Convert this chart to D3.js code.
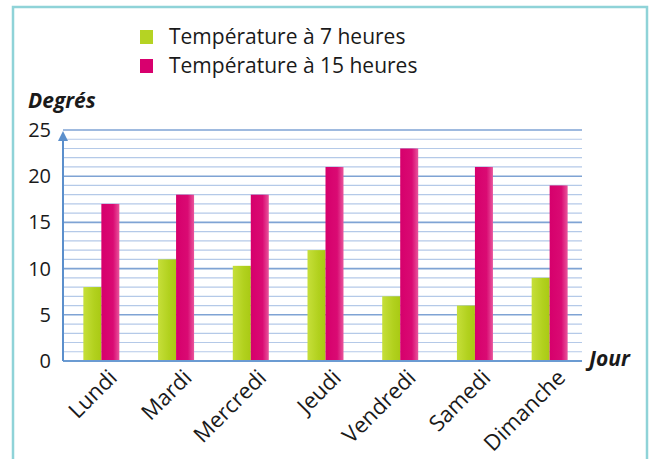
<!DOCTYPE html>
<html>
  <head>
    <meta charset="utf-8">
    <script src="https://cdn.jsdelivr.net/npm/d3@7"></script>
    <style>
      body { margin: 0; background: #ffffff; }
      text { font-family: "Open Sans", "Noto Sans", sans-serif; fill: #1a1a1a; }
    </style>
  </head>
  <body>
    <script>
      // Chart data
      var days = ["Lundi", "Mardi", "Mercredi", "Jeudi", "Vendredi", "Samedi", "Dimanche"];
      var temp7 = [8, 11, 10.3, 12, 7, 6, 9];
      var temp15 = [17, 18, 18, 21, 23, 21, 19];
      var seriesNames = ["Température à 7 heures", "Température à 15 heures"];
      var yTicks = [0, 5, 10, 15, 20, 25];

      var width = 652, height = 459;
      var svg = d3.select("body").append("svg")
        .attr("width", width).attr("height", height);

      // Gradients for the bars (lighter edges like the print)
      var defs = svg.append("defs");
      var gGreen = defs.append("linearGradient").attr("id", "green");
      gGreen.append("stop").attr("offset", "0%").attr("stop-color", "#c6df3a");
      gGreen.append("stop").attr("offset", "60%").attr("stop-color", "#b2d11e");
      gGreen.append("stop").attr("offset", "100%").attr("stop-color", "#a9c914");
      var gPink = defs.append("linearGradient").attr("id", "pink");
      gPink.append("stop").attr("offset", "0%").attr("stop-color", "#d6006c");
      gPink.append("stop").attr("offset", "65%").attr("stop-color", "#da0a73");
      gPink.append("stop").attr("offset", "100%").attr("stop-color", "#e8559c");
      var fills = ["url(#green)", "url(#pink)"];
      var legendColors = ["#b5d323", "#d8006e"];

      // Frame around the figure
      svg.append("rect")
        .attr("x", 13).attr("y", 7).attr("width", 634).attr("height", 470)
        .attr("fill", "none").attr("stroke", "#8fd3d8").attr("stroke-width", 2.5);

      // Scales
      var y = d3.scaleLinear().domain([0, 25]).range([361, 130]);
      var x = d3.scalePoint().domain(days).range([64, 587]).padding(0.5);
      var sub = d3.scaleBand().domain([0, 1]).range([-18, 18]);
      var axisX = 63, gridRight = 582;

      // Minor grid (every degree) and major grid (every 5)
      var minor = d3.range(1, 25).filter(function(d) { return d % 5 !== 0; });
      svg.append("g").selectAll("line").data(minor).enter().append("line")
        .attr("x1", axisX).attr("x2", gridRight)
        .attr("y1", function(d) { return y(d); }).attr("y2", function(d) { return y(d); })
        .attr("stroke", "#b4c9e8").attr("stroke-width", 1.2);
      svg.append("g").selectAll("line").data(yTicks.slice(1)).enter().append("line")
        .attr("x1", axisX).attr("x2", gridRight)
        .attr("y1", function(d) { return y(d); }).attr("y2", function(d) { return y(d); })
        .attr("stroke", "#7fa3d4").attr("stroke-width", 1.6);

      // Bars
      var groups = svg.append("g").selectAll("g").data(days).enter().append("g")
        .attr("transform", function(d) { return "translate(" + x(d) + ",0)"; });
      groups.selectAll("rect")
        .data(function(d, i) { return [temp7[i], temp15[i]]; })
        .enter().append("rect")
        .attr("x", function(d, j) { return sub(j); })
        .attr("width", sub.bandwidth())
        .attr("y", function(d) { return y(d); })
        .attr("height", function(d) { return y(0) - y(d); })
        .attr("fill", function(d, j) { return fills[j]; });

      // Axes: baseline and vertical axis with arrow
      svg.append("line").attr("x1", axisX).attr("x2", gridRight)
        .attr("y1", y(0)).attr("y2", y(0))
        .attr("stroke", "#6b9bd2").attr("stroke-width", 2);
      svg.append("line").attr("x1", axisX).attr("x2", axisX)
        .attr("y1", y(0)).attr("y2", y(25) + 6)
        .attr("stroke", "#5b8fcc").attr("stroke-width", 2);
      svg.append("path")
        .attr("d", "M" + axisX + "," + (y(25) + 1) + "l-5,10l10,0z")
        .attr("fill", "#5b8fcc");

      // Y tick labels
      svg.append("g").selectAll("text").data(yTicks).enter().append("text")
        .attr("x", 51).attr("y", function(d) { return y(d) + 7; })
        .attr("text-anchor", "end").style("font-size", "20px")
        .text(function(d) { return d; });

      // X labels, rotated
      svg.append("g").selectAll("text").data(days).enter().append("text")
        .attr("transform", function(d) {
          return "translate(" + (x(d) + 17) + ",379) rotate(-45)";
        })
        .attr("text-anchor", "end").style("font-size", "22px")
        .text(function(d) { return d; });

      // Axis titles
      svg.append("text").attr("x", 28).attr("y", 108)
        .style("font-size", "21px").style("font-weight", "bold").style("font-style", "italic")
        .text("Degrés");
      svg.append("text").attr("x", 589).attr("y", 366)
        .style("font-size", "21px").style("font-weight", "bold").style("font-style", "italic")
        .text("Jour");

      // Legend
      var legend = svg.append("g").selectAll("g").data(seriesNames).enter().append("g")
        .attr("transform", function(d, i) { return "translate(140," + (30 + i * 29) + ")"; });
      legend.append("rect").attr("width", 13).attr("height", 14)
        .attr("fill", function(d, i) { return legendColors[i]; });
      legend.append("text").attr("x", 29).attr("y", 14)
        .style("font-size", "21px")
        .text(function(d) { return d; });
    </script>
  </body>
</html>
